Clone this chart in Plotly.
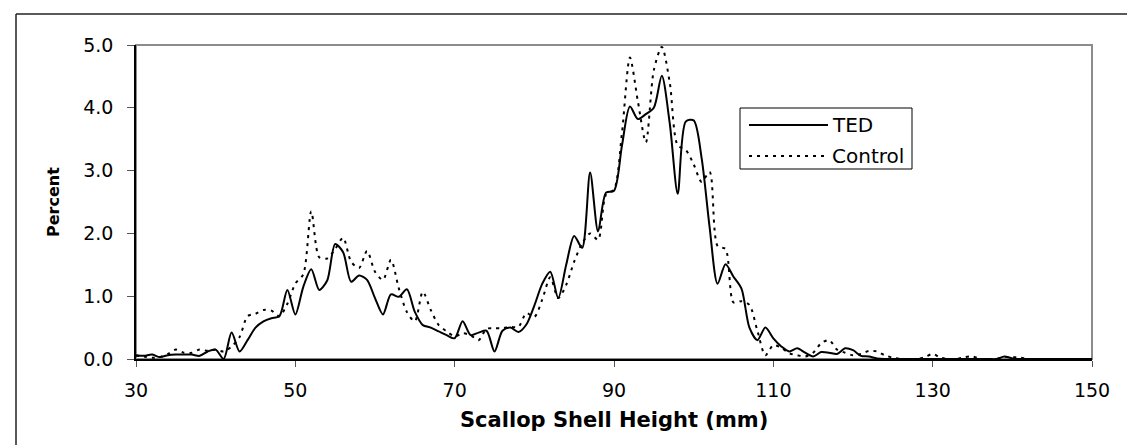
import plotly.graph_objects as go

# ---- data ----
shell_height_mm = list(range(30, 151))

ted_percent = [
    0.06, 0.05, 0.07, 0.03, 0.06, 0.07, 0.07, 0.07, 0.05, 0.12,   # 30-39
    0.15, 0.00, 0.42, 0.12, 0.30, 0.50, 0.60, 0.65, 0.68, 1.10,   # 40-49
    0.71, 1.15, 1.43, 1.10, 1.25, 1.83, 1.70, 1.23, 1.33, 1.26,   # 50-59
    0.97, 0.71, 1.03, 0.99, 1.11, 0.75, 0.54, 0.50, 0.44, 0.38,   # 60-69
    0.33, 0.60, 0.38, 0.42, 0.45, 0.12, 0.45, 0.50, 0.43, 0.55,   # 70-79
    0.85, 1.20, 1.39, 0.97, 1.50, 1.96, 1.77, 2.97, 2.03, 2.65,   # 80-89
    2.68, 3.40, 4.02, 3.82, 3.90, 4.00, 4.51, 3.75, 2.63, 3.78,   # 90-99
    3.80, 3.20, 2.10, 1.20, 1.51, 1.31, 1.12, 0.50, 0.30, 0.50,   # 100-109
    0.33, 0.20, 0.12, 0.17, 0.10, 0.04, 0.11, 0.10, 0.08, 0.17,   # 110-119
    0.14, 0.05, 0.04, 0.01, 0.00, 0.00, 0.00, 0.00, 0.00, 0.00,   # 120-129
    0.00, 0.00, 0.00, 0.00, 0.00, 0.00, 0.00, 0.00, 0.00, 0.04,   # 130-139
    0.01, 0.00, 0.00, 0.00, 0.00, 0.00, 0.00, 0.00, 0.00, 0.00,   # 140-149
    0.00,                                                         # 150
]

control_percent = [
    0.05, 0.04, 0.02, 0.03, 0.08, 0.15, 0.10, 0.10, 0.15, 0.13,   # 30-39
    0.15, 0.12, 0.20, 0.35, 0.68, 0.72, 0.78, 0.77, 0.68, 0.88,   # 40-49
    1.20, 1.35, 2.35, 1.62, 1.60, 1.75, 1.93, 1.55, 1.45, 1.72,   # 50-59
    1.39, 1.26, 1.58, 1.12, 0.75, 0.60, 1.07, 0.78, 0.54, 0.44,   # 60-69
    0.36, 0.41, 0.38, 0.30, 0.48, 0.49, 0.49, 0.51, 0.51, 0.73,   # 70-79
    0.67, 0.95, 1.30, 0.97, 1.18, 1.55, 1.84, 2.00, 1.90, 2.62,   # 80-89
    2.70, 3.60, 4.80, 4.10, 3.45, 4.60, 4.97, 4.40, 3.40, 3.33,   # 90-99
    3.10, 2.82, 2.98, 1.80, 1.75, 0.90, 0.92, 0.86, 0.45, 0.06,   # 100-109
    0.22, 0.18, 0.09, 0.06, 0.04, 0.10, 0.25, 0.30, 0.15, 0.10,   # 110-119
    0.06, 0.08, 0.13, 0.12, 0.06, 0.02, 0.00, 0.00, 0.00, 0.03,   # 120-129
    0.08, 0.02, 0.00, 0.00, 0.03, 0.04, 0.00, 0.00, 0.00, 0.03,   # 130-139
    0.03, 0.02, 0.00, 0.00, 0.00, 0.00, 0.00, 0.00, 0.00, 0.00,   # 140-149
    0.00,                                                         # 150
]

x_tick_values = [30, 50, 70, 90, 110, 130, 150]
y_tick_values = [0.0, 1.0, 2.0, 3.0, 4.0, 5.0]
y_tick_labels = ["0.0", "1.0", "2.0", "3.0", "4.0", "5.0"]

series_names = ["TED", "Control"]
x_title = "Scallop Shell Height (mm)"
y_title = "Percent"

# ---- figure ----
W, H = 1135, 445
L, R, T, B = 128, 51, 37, 94
pw, ph = W - L - R, H - T - B


def px_x(p):
    return (p - L) / pw


def px_y(p):
    return (H - B - p) / ph


FONT = "DejaVu Sans"
DOT = "3px,5px"

fig = go.Figure()
fig.add_trace(go.Scatter(
    x=shell_height_mm, y=ted_percent, name=series_names[0], mode="lines",
    line=dict(color="black", width=2, shape="spline", smoothing=0.8),
))
fig.add_trace(go.Scatter(
    x=shell_height_mm, y=control_percent, name=series_names[1], mode="lines",
    line=dict(color="black", width=2, dash=DOT, shape="spline", smoothing=0.8),
))

shapes = [
    # gray plot-area frame (top / right)
    dict(type="rect", xref="paper", yref="paper", x0=0, x1=1, y0=0, y1=1,
         line=dict(color="#8c8c8c", width=2), layer="below"),
    # outer chart border
    dict(type="line", xref="paper", yref="paper", x0=px_x(8), x1=px_x(1134), y0=px_y(6), y1=px_y(6),
         line=dict(color="#222222", width=1.5)),
    dict(type="line", xref="paper", yref="paper", x0=px_x(8), x1=px_x(8), y0=px_y(6), y1=px_y(444),
         line=dict(color="#222222", width=1.5)),
    dict(type="line", xref="paper", yref="paper", x0=px_x(8), x1=px_x(1134), y0=px_y(444), y1=px_y(444),
         line=dict(color="#999999", width=1.5)),
    dict(type="line", xref="paper", yref="paper", x0=px_x(1134), x1=px_x(1134), y0=px_y(6), y1=px_y(444),
         line=dict(color="#999999", width=1.5)),
    # legend box and samples
    dict(type="rect", xref="paper", yref="paper", x0=px_x(732), x1=px_x(904), y0=px_y(161), y1=px_y(100),
         line=dict(color="black", width=1), fillcolor="white", layer="above"),
    dict(type="line", xref="paper", yref="paper", x0=px_x(741), x1=px_x(820), y0=px_y(117), y1=px_y(117),
         line=dict(color="black", width=2), layer="above"),
    dict(type="line", xref="paper", yref="paper", x0=px_x(741), x1=px_x(820), y0=px_y(148), y1=px_y(148),
         line=dict(color="black", width=2, dash=DOT), layer="above"),
]

annotations = [
    dict(text="<b>" + x_title + "</b>", xref="paper", yref="paper",
         x=0.5, y=px_y(412), xanchor="center", yanchor="middle",
         showarrow=False, font=dict(family=FONT, size=21, color="black")),
    dict(text="<b>" + y_title + "</b>", xref="paper", yref="paper",
         x=px_x(45), y=px_y(194), xanchor="center", yanchor="middle", textangle=-90,
         showarrow=False, font=dict(family=FONT, size=16, color="black")),
    dict(text=series_names[0], xref="paper", yref="paper",
         x=px_x(822), y=px_y(117), xanchor="left", yanchor="middle",
         showarrow=False, font=dict(family=FONT, size=20, color="black")),
    dict(text=series_names[1], xref="paper", yref="paper",
         x=px_x(822), y=px_y(148), xanchor="left", yanchor="middle",
         showarrow=False, font=dict(family=FONT, size=20, color="black")),
]

fig.update_layout(
    width=W, height=H,
    margin=dict(l=L, r=R, t=T, b=B, pad=0),
    paper_bgcolor="white", plot_bgcolor="white",
    font=dict(family=FONT, size=19, color="black"),
    showlegend=False,
    shapes=shapes,
    annotations=annotations,
)

fig.update_xaxes(
    range=[30, 150], tickmode="array", tickvals=x_tick_values,
    ticktext=[str(v) for v in x_tick_values],
    showgrid=False, zeroline=False,
    showline=True, linecolor="black", linewidth=1.5,
    ticks="outside", ticklen=6, tickcolor="#555555", tickwidth=1,
    tickfont=dict(family=FONT, size=19, color="black"),
    ticklabelstandoff=7,
)
fig.update_yaxes(
    range=[0, 5], tickmode="array", tickvals=y_tick_values, ticktext=y_tick_labels,
    showgrid=False, zeroline=False,
    showline=True, linecolor="black", linewidth=1.5,
    ticks="outside", ticklen=7, tickcolor="#555555", tickwidth=1,
    tickfont=dict(family=FONT, size=19, color="black"),
    ticklabelstandoff=10,
)

fig.write_html("out.html")
